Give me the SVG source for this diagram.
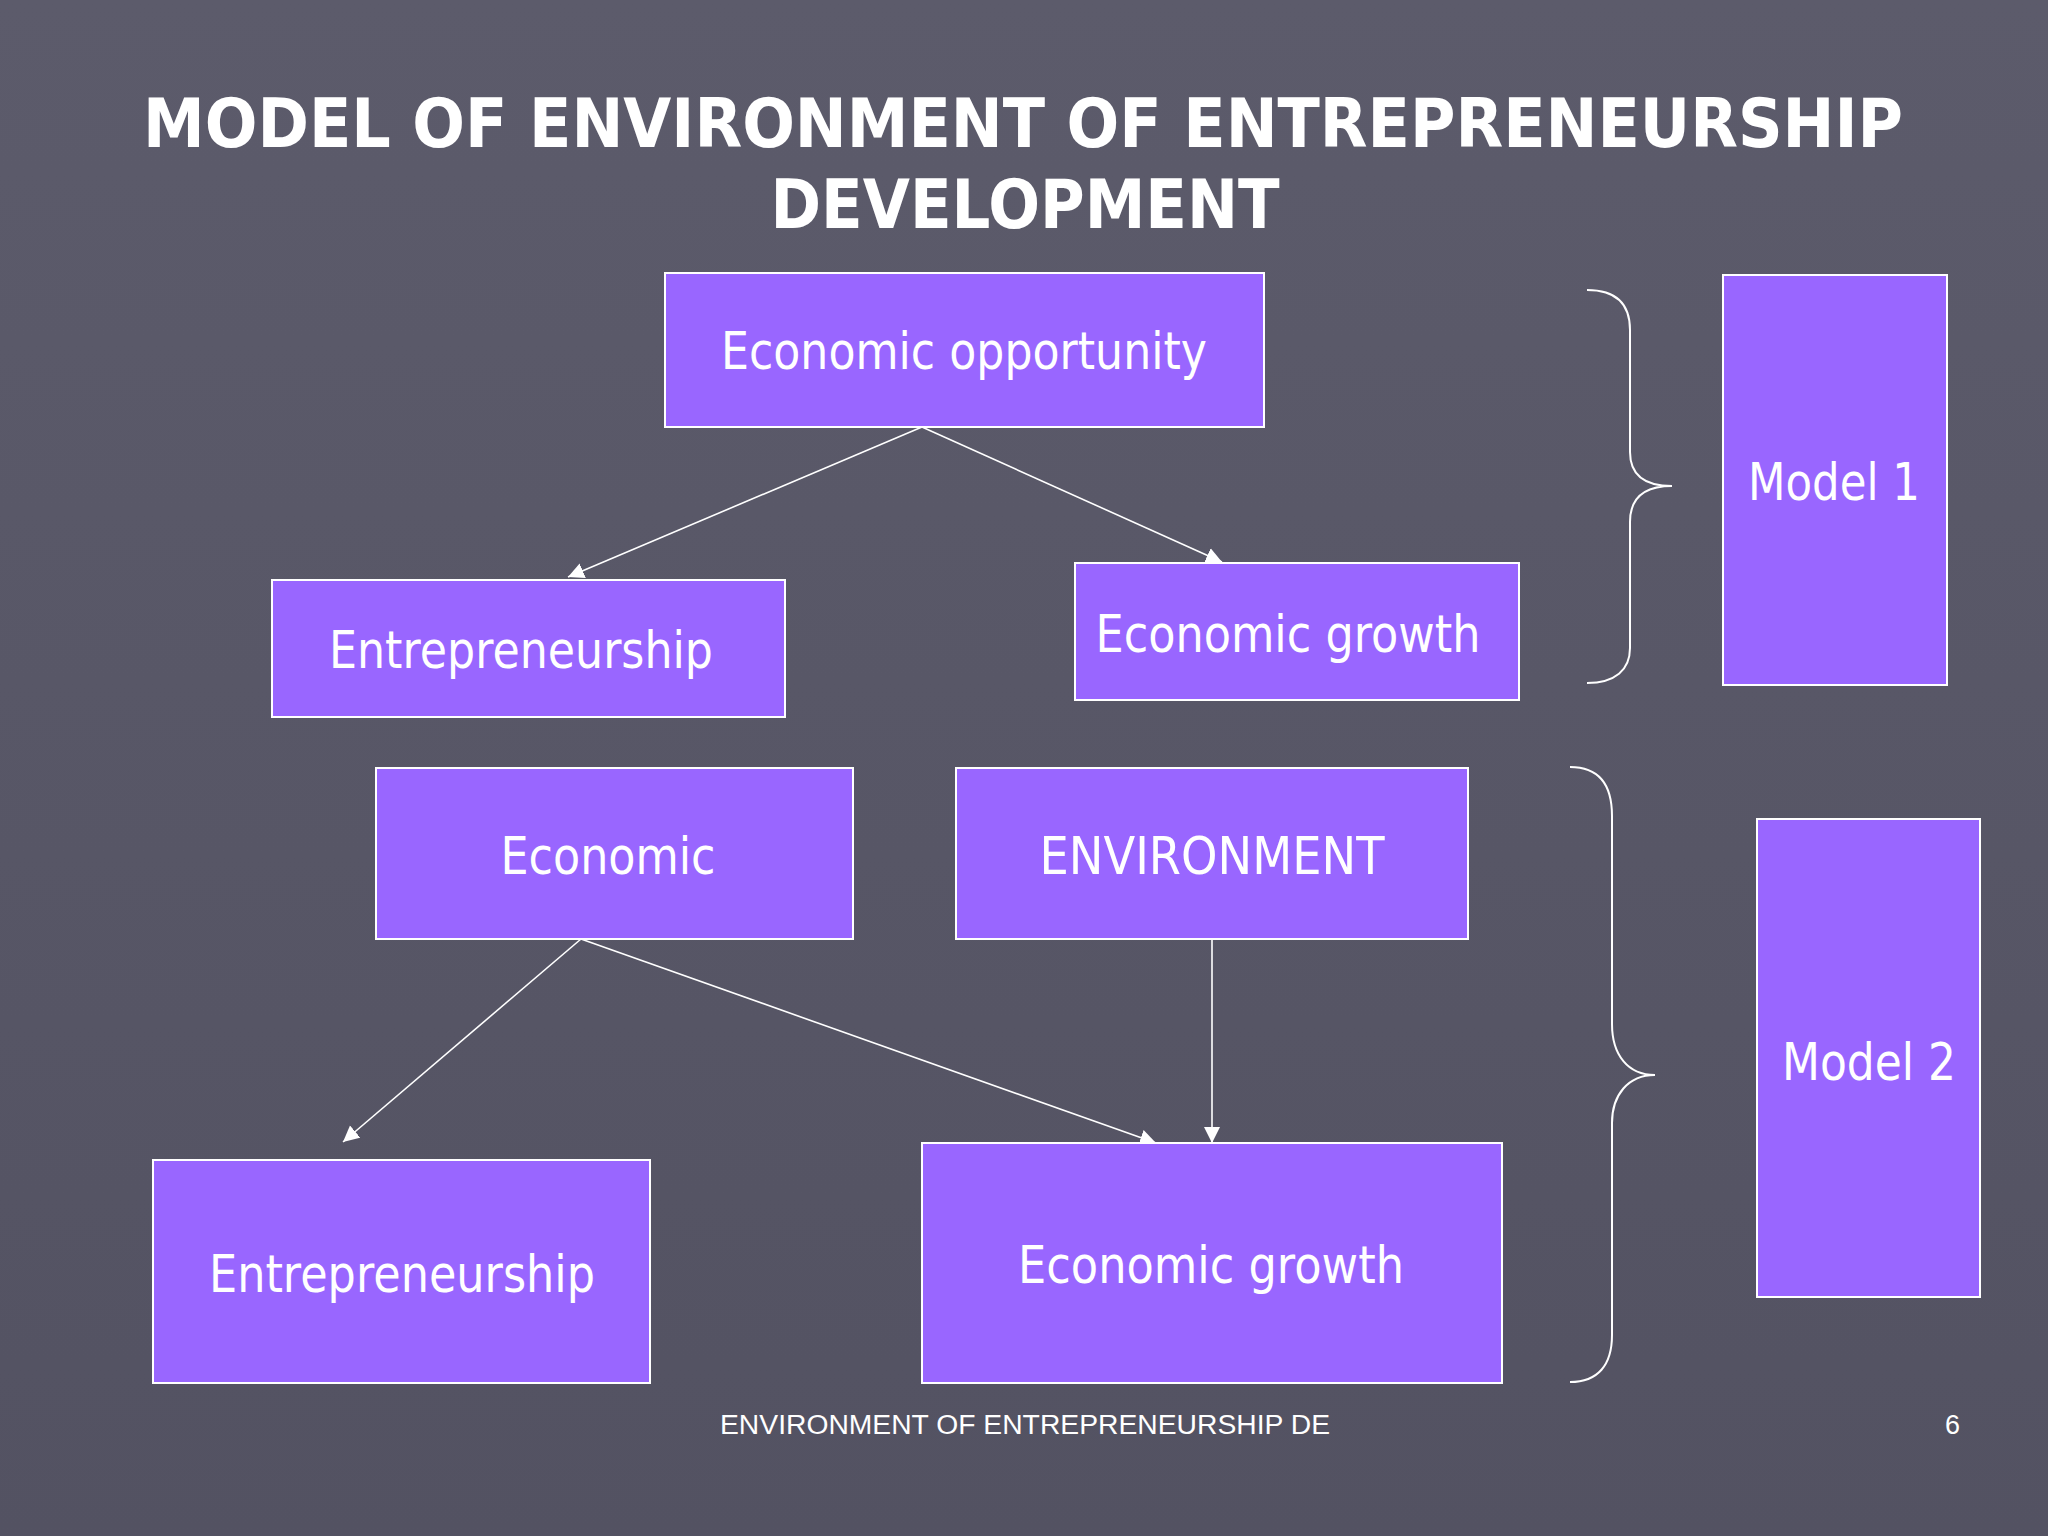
<svg xmlns="http://www.w3.org/2000/svg" width="2048" height="1536" viewBox="0 0 2048 1536">
  <defs>
    <linearGradient id="bg" x1="0" y1="0" x2="0" y2="1">
      <stop offset="0" stop-color="#5c5b6b"/>
      <stop offset="1" stop-color="#535262"/>
    </linearGradient>
    <marker id="arrow" markerUnits="userSpaceOnUse" markerWidth="18" markerHeight="18" refX="16" refY="8" orient="auto">
      <path d="M0,0 L16,8 L0,16 z" fill="#ffffff"/>
    </marker>
    <style>
      .box { fill: #9966ff; stroke: #ffffff; stroke-width: 2; }
      .lbl { font-family: "DejaVu Sans", "Noto Sans", sans-serif; font-size: 51px; fill: #ffffff; text-anchor: middle; }
      .title { font-family: "DejaVu Sans", "Noto Sans", sans-serif; font-weight: bold; font-size: 68px; fill: #ffffff; text-anchor: middle; }
      .foot { font-family: "Liberation Sans", Arial, sans-serif; font-size: 27px; fill: #ffffff; }
      .conn { stroke: #ffffff; stroke-width: 1.6; fill: none; }
      .brace { stroke: #ffffff; stroke-width: 2; fill: none; }
    </style>
  </defs>

  <rect x="0" y="0" width="2048" height="1536" fill="url(#bg)"/>

  <g id="title">
    <text class="title" x="1023" y="147" textLength="1760" lengthAdjust="spacingAndGlyphs">MODEL OF ENVIRONMENT OF ENTREPRENEURSHIP</text>
    <text class="title" x="1025" y="228" textLength="509" lengthAdjust="spacingAndGlyphs">DEVELOPMENT</text>
  </g>

  <g id="connectors">
    <line class="conn" x1="922" y1="427" x2="568" y2="577" marker-end="url(#arrow)"/>
    <line class="conn" x1="922" y1="427" x2="1222" y2="562" marker-end="url(#arrow)"/>
    <line class="conn" x1="581" y1="939" x2="343" y2="1142" marker-end="url(#arrow)"/>
    <line class="conn" x1="581" y1="939" x2="1156" y2="1143" marker-end="url(#arrow)"/>
    <line class="conn" x1="1212" y1="939" x2="1212" y2="1143" marker-end="url(#arrow)"/>
    <path class="brace" d="M1587,290 C1615,290 1630,303 1630,330 L1630,452 C1630,475 1645,486 1672,486 C1645,486 1630,497 1630,522 L1630,648 C1630,670 1615,683 1587,683"/>
    <path class="brace" d="M1570,767 C1598,767 1612,784 1612,816 L1612,1024 C1612,1055 1628,1075 1655,1075 C1628,1075 1612,1095 1612,1123 L1612,1335 C1612,1365 1598,1382 1570,1382"/>
  </g>

  <g id="node-economic-opportunity">
    <rect class="box" x="665" y="273" width="599" height="154"/>
    <text class="lbl" x="964" y="369" textLength="486" lengthAdjust="spacingAndGlyphs">Economic opportunity</text>
  </g>
  <g id="node-entrepreneurship-1">
    <rect class="box" x="272" y="580" width="513" height="137"/>
    <text class="lbl" x="521" y="668" textLength="384" lengthAdjust="spacingAndGlyphs">Entrepreneurship</text>
  </g>
  <g id="node-economic-growth-1">
    <rect class="box" x="1075" y="563" width="444" height="137"/>
    <text class="lbl" x="1288" y="652" textLength="385" lengthAdjust="spacingAndGlyphs">Economic growth</text>
  </g>
  <g id="node-model-1">
    <rect class="box" x="1723" y="275" width="224" height="410"/>
    <text class="lbl" x="1834" y="500" textLength="172" lengthAdjust="spacingAndGlyphs">Model 1</text>
  </g>
  <g id="node-economic">
    <rect class="box" x="376" y="768" width="477" height="171"/>
    <text class="lbl" x="608" y="874" textLength="215" lengthAdjust="spacingAndGlyphs">Economic</text>
  </g>
  <g id="node-environment">
    <rect class="box" x="956" y="768" width="512" height="171"/>
    <text class="lbl" x="1212" y="874" textLength="345" lengthAdjust="spacingAndGlyphs">ENVIRONMENT</text>
  </g>
  <g id="node-entrepreneurship-2">
    <rect class="box" x="153" y="1160" width="497" height="223"/>
    <text class="lbl" x="402" y="1292" textLength="386" lengthAdjust="spacingAndGlyphs">Entrepreneurship</text>
  </g>
  <g id="node-economic-growth-2">
    <rect class="box" x="922" y="1143" width="580" height="240"/>
    <text class="lbl" x="1211" y="1283" textLength="386" lengthAdjust="spacingAndGlyphs">Economic growth</text>
  </g>
  <g id="node-model-2">
    <rect class="box" x="1757" y="819" width="223" height="478"/>
    <text class="lbl" x="1869" y="1080" textLength="174" lengthAdjust="spacingAndGlyphs">Model 2</text>
  </g>

  <g id="footer">
    <text class="foot" x="720" y="1434" textLength="610" lengthAdjust="spacingAndGlyphs">ENVIRONMENT OF ENTREPRENEURSHIP DE</text>
    <text class="foot" x="1945" y="1434">6</text>
  </g>
</svg>
